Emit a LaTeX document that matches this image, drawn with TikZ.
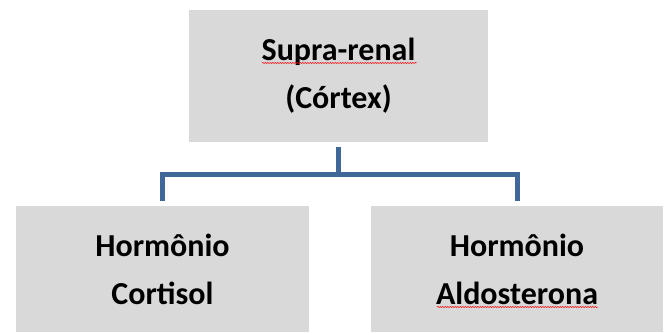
\documentclass[tikz,border=0pt]{standalone}
\usepackage{fontspec}
\setmainfont{Carlito}
\usetikzlibrary{decorations.pathmorphing}
\definecolor{boxgray}{HTML}{D9D9D9}
\definecolor{connblue}{HTML}{3F6797}
\tikzset{
  box/.style={fill=boxgray, draw=none, align=center, inner sep=0pt,
    font=\fontsize{32}{48}\selectfont\bfseries},
  conn/.style={draw=connblue, line width=5pt},
  squiggle/.style={draw=red, line width=0.5pt, decorate,
    decoration={snake, amplitude=0.6pt, segment length=2.5pt}}
}
\begin{document}
\begin{tikzpicture}[x=1pt,y=1pt]
\useasboundingbox (0,0) rectangle (669,332);
\node[box, minimum width=299pt, minimum height=132pt] (top) at (338.5,256) {Supra-renal\\(Córtex)};
\node[box, minimum width=293pt, minimum height=126pt] (left) at (162.5,63) {Hormônio\\Cortisol};
\node[box, minimum width=292pt, minimum height=126pt] (right) at (517,63) {Hormônio\\Aldosterona};
\draw[conn] ([yshift=-5pt]top.south) -- ++(0,-27) coordinate (mid);
\draw[conn] ([yshift=5pt]left.north) |- (mid) -| ([yshift=5pt]right.north);
\draw[squiggle] (262,269) -- (417,269);
\draw[squiggle] (437,25) -- (598,25);
\end{tikzpicture}
\end{document}
